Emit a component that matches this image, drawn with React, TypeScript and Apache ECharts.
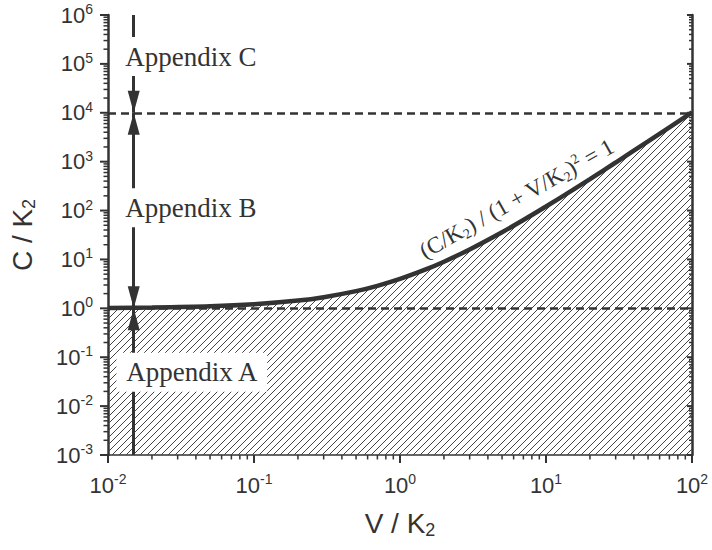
import React, { useEffect, useRef } from "react";
import * as echarts from "echarts";

// ---- data ----
const xMajorTicks = [0.01, 0.1, 1, 10, 100];
const yMajorTicks = [1e-3, 1e-2, 1e-1, 1, 10, 100, 1e3, 1e4, 1e5, 1e6];
const minorMultipliers = [2, 3, 4, 5, 6, 7, 8, 9];

// boundary curve (C/K2)/(1+V/K2)^2 = 1
const curveV = [0.01, 0.02, 0.05, 0.1, 0.2, 0.3, 0.5, 0.7, 1, 1.5, 2, 3, 5, 7, 10, 15, 20, 30, 50, 70, 100];
const curveC = [1.02, 1.04, 1.1, 1.21, 1.44, 1.69, 2.25, 2.89, 4, 6.25, 9, 16, 36, 64, 121, 256, 441, 961, 2601, 5041, 10201];

const thresholdLines = [1, 1e4];
const arrowV = 0.015;
// arrow segments: [fromC, toC, arrowAtStart, arrowAtEnd]
const arrowSegments: [number, number, boolean, boolean][] = [
  [1e6, 1e4, false, true],
  [1e4, 1, true, true],
  [1, 1e-3, true, false],
];
const appendixNames = ["Appendix C", "Appendix B", "Appendix A"];
const appendixV = [0.037, 0.037, 0.0375];
const appendixC = [1.41e5, 114, 0.049];
const curveLabelAt = [6.3, 175];

const X_MIN = 0.01, X_MAX = 100, Y_MIN = 1e-3, Y_MAX = 1e6;
const INK = "#333333";
const SANS = "Liberation Sans, Arial, sans-serif";
const SERIF = "Liberation Serif, Times New Roman, serif";

function minorOf(majors: number[]) {
  const out: number[] = [];
  for (let i = 0; i < majors.length - 1; i++) {
    for (const m of minorMultipliers) out.push(majors[i] * m);
  }
  return out;
}

function makeHatch() {
  const s = 7;
  const c = document.createElement("canvas");
  c.width = s;
  c.height = s;
  const g = c.getContext("2d")!;
  g.strokeStyle = "#444444";
  g.lineWidth = 1;
  g.beginPath();
  g.moveTo(-1, s + 1);
  g.lineTo(s + 1, -1);
  g.moveTo(-1, 1);
  g.lineTo(1, -1);
  g.moveTo(s - 1, s + 1);
  g.lineTo(s + 1, s - 1);
  g.stroke();
  return { image: c.toDataURL(), repeat: "repeat", imageWidth: s, imageHeight: s } as any;
}

function tickSeries(kind: "x" | "yl" | "yr") {
  const majors = kind === "x" ? xMajorTicks : yMajorTicks;
  const items = [
    ...majors.map((v) => [v, 1]),
    ...minorOf(majors).map((v) => [v, 0]),
  ];
  const data = items.map(([v, major]) =>
    kind === "x" ? [v, Y_MIN, major] : kind === "yl" ? [X_MIN, v, major] : [X_MAX, v, major]
  );
  return {
    type: "custom",
    coordinateSystem: "cartesian2d",
    silent: true,
    clip: false,
    z: 6,
    data,
    renderItem: (_p: any, api: any) => {
      const pt = api.coord([api.value(0), api.value(1)]);
      const major = api.value(2) === 1;
      const len = major ? 8 : 4.5;
      let x2 = pt[0], y2 = pt[1];
      if (kind === "x") y2 = pt[1] + len;
      else if (kind === "yl") x2 = pt[0] - len;
      else x2 = pt[0] - (major ? 5 : 3);
      return {
        type: "line",
        shape: { x1: pt[0], y1: pt[1], x2, y2 },
        style: { stroke: INK, lineWidth: major ? 2 : 1.5 },
      };
    },
  };
}

const supRich = {
  b: { fontSize: 22, fontFamily: SANS, color: INK, lineHeight: 26 },
  s: { fontSize: 14, fontFamily: SANS, color: INK, lineHeight: 8, verticalAlign: "top" },
};
const powLabel = (v: number) => `{b|10}{s|${Math.round(Math.log10(v))}}`;

const nameRich = {
  n: { fontSize: 28, fontFamily: SANS, color: INK, lineHeight: 32 },
  sub: { fontSize: 18, fontFamily: SANS, color: INK, lineHeight: 4, verticalAlign: "bottom" },
};

export default function App() {
  const ref = useRef<HTMLDivElement>(null);
  useEffect(() => {
    const chart = echarts.init(ref.current!, null, { renderer: "svg" });
    const hatch = makeHatch();

    const arrowEnd = (on: boolean) =>
      on ? { symbol: "triangle", symbolSize: [12, 22], symbolOffset: [0, 11] } : { symbol: "none" };

    const markData: any[] = [];
    thresholdLines.forEach((c) => {
      markData.push([
        { coord: [X_MIN, c], symbol: "none", lineStyle: { type: [8, 5], width: 2.5, color: INK } },
        { coord: [X_MAX, c], symbol: "none" },
      ]);
    });
    arrowSegments.forEach(([a, b, s0, s1]) => {
      markData.push([
        { coord: [arrowV, a], ...arrowEnd(s0), lineStyle: { type: "solid", width: 3, color: INK } },
        { coord: [arrowV, b], ...arrowEnd(s1) },
      ]);
    });

    const option: any = {
      animation: false,
      backgroundColor: "#ffffff",
      grid: { left: 107, right: 20, top: 15, bottom: 95, containLabel: false },
      xAxis: {
        type: "log",
        logBase: 10,
        min: X_MIN,
        max: X_MAX,
        splitNumber: 4,
        name: "{n|V / K}{sub|2}",
        nameLocation: "middle",
        nameGap: 52,
        nameTextStyle: { rich: nameRich },
        axisLine: { show: true, lineStyle: { color: INK, width: 1.5 } },
        axisTick: { show: false },
        splitLine: { show: false },
        axisLabel: { margin: 17, formatter: powLabel, rich: supRich },
      },
      yAxis: [
        {
          type: "log",
          logBase: 10,
          min: Y_MIN,
          max: Y_MAX,
          splitNumber: 9,
          name: "{n|C / K}{sub|2}",
          nameLocation: "middle",
          nameGap: 70,
          nameRotate: 90,
          nameTextStyle: { rich: nameRich },
          axisLine: { show: true, lineStyle: { color: INK, width: 2.5 } },
          axisTick: { show: false },
          splitLine: { show: false },
          axisLabel: { margin: 15, formatter: powLabel, rich: supRich },
        },
        {
          type: "log",
          logBase: 10,
          min: Y_MIN,
          max: Y_MAX,
          splitNumber: 9,
          position: "right",
          axisLine: { show: true, lineStyle: { color: INK, width: 2.5 } },
          axisTick: { show: false },
          splitLine: { show: false },
          axisLabel: { show: false },
        },
      ],
      series: [
        {
          type: "line",
          data: curveV.map((v, i) => [v, curveC[i]]),
          smooth: 0.3,
          showSymbol: false,
          symbol: "none",
          silent: true,
          z: 3,
          lineStyle: { color: INK, width: 4.5 },
          areaStyle: { color: hatch, opacity: 1, origin: "start" },
        },
        {
          type: "line",
          data: [],
          silent: true,
          z: 4,
          markLine: {
            silent: true,
            animation: false,
            symbolSize: [12, 22],
            label: { show: false },
            emphasis: { disabled: true },
            itemStyle: { color: INK },
            data: markData,
          },
        },
        tickSeries("x"),
        tickSeries("yl"),
        tickSeries("yr"),
        {
          type: "scatter",
          silent: true,
          z: 10,
          symbolSize: 1,
          itemStyle: { opacity: 0 },
          data: appendixNames.map((n, i) => ({ name: n, value: [appendixV[i], appendixC[i]] })),
          label: {
            show: true,
            position: "inside",
            formatter: (p: any) => p.name,
            fontFamily: SERIF,
            fontSize: 27,
            color: INK,
            opacity: 1,
            backgroundColor: "#ffffff",
            padding: [6, 9, 6, 9],
          },
        },
        {
          type: "scatter",
          silent: true,
          z: 10,
          symbolSize: 1,
          itemStyle: { opacity: 0 },
          data: [{ value: curveLabelAt }],
          label: {
            show: true,
            position: "inside",
            rotate: 29.5,
            color: INK,
            opacity: 1,
            formatter: "{t|(C/K}{sub|2}{t|) / (1 + V/K}{sub|2}{t|)}{sup|2}{t| = 1}",
            rich: {
              t: { fontFamily: SERIF, fontSize: 23, color: INK, lineHeight: 26 },
              sub: { fontFamily: SERIF, fontSize: 14, color: INK, lineHeight: 10, verticalAlign: "bottom" },
              sup: { fontFamily: SERIF, fontSize: 14, color: INK, lineHeight: 8, verticalAlign: "top" },
            },
          },
        },
      ],
    };
    chart.setOption(option);
    return () => chart.dispose();
  }, []);
  return <div ref={ref} style={{ position: "absolute", left: 0, top: 0, width: 712, height: 550 }} />;
}
